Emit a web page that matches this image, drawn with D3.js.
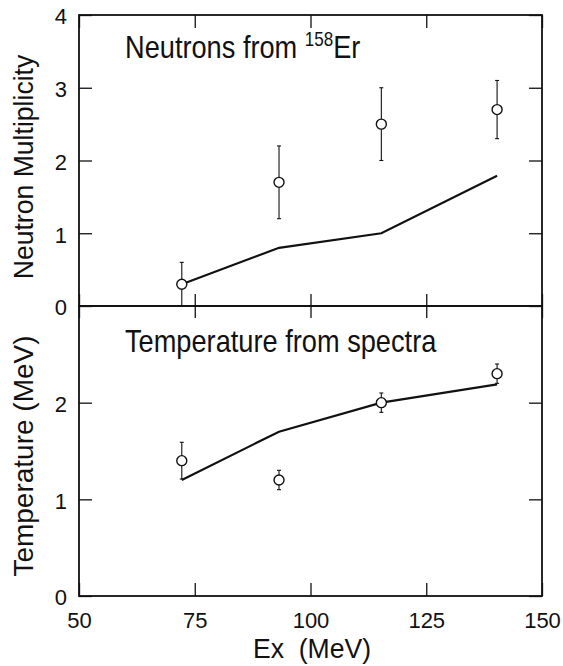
<!DOCTYPE html>
<html>
<head>
<meta charset="utf-8">
<script src="https://cdn.jsdelivr.net/npm/d3@7"></script>
<style>
  body { margin: 0; background: #fff; }
  svg text { font-family: "Liberation Sans", Arial, sans-serif; fill: #111; }
</style>
</head>
<body>
<div id="chart"></div>
<script>
// excitation energies (MeV)
var ex = [72.2, 93.2, 115.3, 140.3];

// neutrons from 158Er
var multData = [0.3, 1.7, 2.5, 2.7];
var multErr = [0.3, 0.5, 0.5, 0.4];
var multCalc = [0.3, 0.8, 1.0, 1.79];

// temperature from spectra
var tempData = [1.4, 1.2, 2.0, 2.3];
var tempErr = [0.19, 0.1, 0.1, 0.1];
var tempCalc = [1.2, 1.7, 2.0, 2.19];

var xTicks = [50, 75, 100, 125, 150];
var multTicks = [0, 1, 2, 3, 4];
var tempTicks = [0, 1, 2];

var W = 563, H = 666;
var left = 79, right = 542, top1 = 15, mid = 306, bottom = 596;

var svg = d3.select("#chart").append("svg")
  .attr("width", W)
  .attr("height", H);

var x = d3.scaleLinear().domain([50, 150]).range([left, right]);
var yMult = d3.scaleLinear().domain([0, 4]).range([mid, top1]);
var yTemp = d3.scaleLinear().domain([0, 3]).range([bottom, mid]);

function styleAxis(g) {
  g.select(".domain").remove();
  g.selectAll("line").attr("stroke", "#111").attr("stroke-width", 1.3);
  g.selectAll("text").style("font-size", "22px").attr("fill", "#111");
}

// frames
[[top1, mid], [mid, bottom]].forEach(function (p) {
  svg.append("rect")
    .attr("x", left).attr("y", p[0])
    .attr("width", right - left).attr("height", p[1] - p[0])
    .attr("fill", "none").attr("stroke", "#111").attr("stroke-width", 1.8);
});

// x axes
svg.append("g").attr("transform", "translate(0," + top1 + ")")
  .call(d3.axisTop(x).tickValues(xTicks).tickSize(-13).tickFormat(""))
  .call(styleAxis);
svg.append("g").attr("transform", "translate(0," + mid + ")")
  .call(d3.axisBottom(x).tickValues(xTicks).tickSize(-12).tickFormat(""))
  .call(styleAxis);
svg.append("g").attr("transform", "translate(0," + mid + ")")
  .call(d3.axisTop(x).tickValues(xTicks).tickSize(-12).tickFormat(""))
  .call(styleAxis);
svg.append("g").attr("transform", "translate(0," + bottom + ")")
  .call(d3.axisBottom(x).tickValues(xTicks).tickSize(-13).tickPadding(16).tickFormat(d3.format("d")))
  .call(styleAxis);

// y axes
svg.append("g").attr("transform", "translate(" + left + ",0)")
  .call(d3.axisLeft(yMult).tickValues(multTicks).tickSize(-13).tickPadding(12).tickFormat(d3.format("d")))
  .call(styleAxis)
  .selectAll("text").attr("dy", "0.4em");
svg.append("g").attr("transform", "translate(" + right + ",0)")
  .call(d3.axisRight(yMult).tickValues(multTicks).tickSize(-13).tickFormat(""))
  .call(styleAxis);
svg.append("g").attr("transform", "translate(" + left + ",0)")
  .call(d3.axisLeft(yTemp).tickValues(tempTicks).tickSize(-13).tickPadding(12).tickFormat(d3.format("d")))
  .call(styleAxis)
  .selectAll("text").attr("dy", "0.4em");
svg.append("g").attr("transform", "translate(" + right + ",0)")
  .call(d3.axisRight(yTemp).tickValues(tempTicks).tickSize(-13).tickFormat(""))
  .call(styleAxis);

// data: line, error bars, open circles
function drawPanel(y, vals, errs, calc) {
  var line = d3.line().x(function (d, i) { return x(ex[i]); }).y(function (d) { return y(d); });
  svg.append("path").datum(calc)
    .attr("d", line)
    .attr("fill", "none").attr("stroke", "#111").attr("stroke-width", 2.2);

  var g = svg.append("g");
  vals.forEach(function (v, i) {
    var cx = x(ex[i]);
    var y0 = y(v - errs[i]), y1 = y(v + errs[i]);
    g.append("line").attr("x1", cx).attr("x2", cx).attr("y1", y0).attr("y2", y1)
      .attr("stroke", "#111").attr("stroke-width", 1.1);
    [y0, y1].forEach(function (yy) {
      g.append("line").attr("x1", cx - 2).attr("x2", cx + 2).attr("y1", yy).attr("y2", yy)
        .attr("stroke", "#111").attr("stroke-width", 1.1);
    });
  });

  svg.append("g").selectAll("circle")
    .data(vals)
    .enter().append("circle")
      .attr("cx", function (d, i) { return x(ex[i]); })
      .attr("cy", function (d) { return y(d); })
      .attr("r", 5)
      .attr("fill", "#fff").attr("stroke", "#111").attr("stroke-width", 1.4);
}

drawPanel(yMult, multData, multErr, multCalc);
drawPanel(yTemp, tempData, tempErr, tempCalc);

// panel titles (condensed look via horizontal scale)
var t1 = svg.append("text").attr("transform", "translate(125,58) scale(0.85,1)").style("font-size", "32px");
t1.append("tspan").text("Neutrons from ");
t1.append("tspan").text("158").style("font-size", "20px").attr("dy", -12);
t1.append("tspan").text("Er").attr("dy", 12);

svg.append("text").attr("transform", "translate(125,352) scale(0.85,1)").style("font-size", "32px")
  .text("Temperature from spectra");

// axis labels
svg.append("text")
  .attr("transform", "translate(33,167) rotate(-90) scale(0.95,1)")
  .attr("text-anchor", "middle").style("font-size", "28px")
  .text("Neutron Multiplicity");
svg.append("text")
  .attr("transform", "translate(33,456) rotate(-90)")
  .attr("text-anchor", "middle").style("font-size", "28px")
  .text("Temperature (MeV)");
svg.append("text")
  .attr("transform", "translate(312,658) scale(0.95,1)")
  .attr("text-anchor", "middle").style("font-size", "28px")
  .attr("xml:space", "preserve")
  .text("Ex  (MeV)");
</script>
</body>
</html>
